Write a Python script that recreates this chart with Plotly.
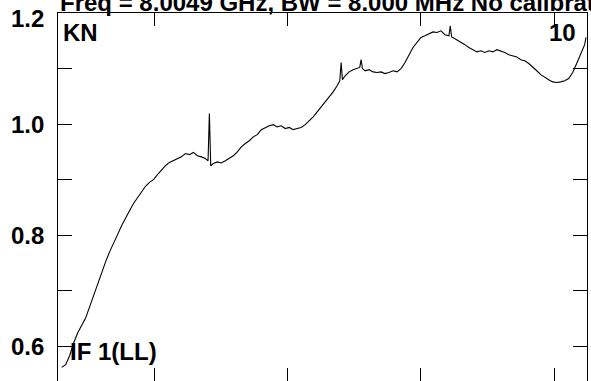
import plotly.graph_objects as go

# Spectrum readings (channel vs. normalised amplitude)
channel = [
    30, 33, 36, 39, 42, 45, 48, 51, 54, 57, 60, 63, 66, 69, 72, 75, 78, 81, 84, 87,
    90, 93, 96, 99, 102, 105, 108, 111, 114, 117, 120, 123, 126, 129, 132, 135, 138,
    140, 141, 142, 144, 147, 150, 153, 156, 159, 162, 165, 168, 171, 174, 177, 180,
    183, 186, 189, 192, 195, 198, 201, 204, 207, 210, 213, 216, 219, 222, 225, 228,
    231, 234, 237, 239, 240, 241, 243, 246, 249, 252, 254, 255, 256, 258, 261, 264,
    267, 270, 273, 276, 279, 282, 285, 288, 291, 294, 297, 300, 303, 306, 309, 312,
    315, 318, 321, 322, 323, 324, 327, 330, 333, 336, 339, 342, 345, 348, 351, 354,
    357, 360, 363, 366, 369, 372, 375, 378, 381, 384, 387, 390, 393, 396, 399, 402,
    405, 408, 411, 414, 417, 420, 423, 424,
]
amplitude = [
    0.562, 0.567, 0.583, 0.606, 0.624, 0.639, 0.651, 0.671, 0.691, 0.711, 0.734, 0.752,
    0.770, 0.787, 0.801, 0.817, 0.832, 0.844, 0.857, 0.868, 0.877, 0.888, 0.895, 0.900,
    0.909, 0.918, 0.925, 0.931, 0.934, 0.938, 0.941, 0.947, 0.945, 0.949, 0.943, 0.941,
    0.938, 0.934, 1.019, 0.925, 0.929, 0.932, 0.930, 0.934, 0.938, 0.943, 0.950, 0.959,
    0.965, 0.970, 0.977, 0.981, 0.990, 0.994, 0.997, 0.999, 0.995, 0.997, 0.992, 0.994,
    0.990, 0.992, 0.994, 0.999, 1.006, 1.013, 1.022, 1.031, 1.039, 1.049, 1.058, 1.069,
    1.078, 1.111, 1.080, 1.087, 1.094, 1.098, 1.100, 1.102, 1.116, 1.100, 1.096, 1.098,
    1.094, 1.093, 1.094, 1.091, 1.093, 1.096, 1.094, 1.100, 1.111, 1.125, 1.138, 1.147,
    1.156, 1.159, 1.163, 1.166, 1.165, 1.168, 1.161, 1.159, 1.177, 1.157, 1.156, 1.152,
    1.148, 1.143, 1.138, 1.134, 1.130, 1.132, 1.129, 1.132, 1.130, 1.134, 1.132, 1.129,
    1.125, 1.123, 1.121, 1.116, 1.114, 1.109, 1.103, 1.096, 1.089, 1.084, 1.080, 1.076,
    1.075, 1.076, 1.078, 1.082, 1.093, 1.109, 1.125, 1.143, 1.156,
]

x_ticks = [100, 200, 300, 400]
y_ticks = [0.6, 0.7, 0.8, 0.9, 1.0, 1.1, 1.2]
y_labels = [0.6, 0.8, 1.0, 1.2]

title_text = "Freq = 8.0049 GHz, BW = 8.000 MHz No calibration"
source = "KN"
ifnum = "IF 1(LL)"
panel = "10"

FONT = dict(family="Liberation Sans, Arial, sans-serif", size=24, color="black", weight="bold")

fig = go.Figure()
fig.add_trace(
    go.Scatter(
        x=channel,
        y=amplitude,
        mode="lines",
        line=dict(color="black", width=1.1),
        hoverinfo="skip",
    )
)

annotations = []
for v in y_labels:
    annotations.append(
        dict(
            x=0, xref="paper", y=v, yref="y",
            text=f"{v:.1f}", showarrow=False, font=FONT,
            xanchor="right", yanchor="middle", xshift=-12,
            yshift=-5 if v == 1.2 else 0,
        )
    )
annotations += [
    dict(x=0, xref="paper", y=1, yref="paper", text=title_text, showarrow=False,
         font=FONT, xanchor="left", yanchor="bottom", xshift=0, yshift=-5),
    dict(x=0, xref="paper", y=1, yref="paper", text=source, showarrow=False,
         font=FONT, xanchor="left", yanchor="top", xshift=3, yshift=-4),
    dict(x=1, xref="paper", y=1, yref="paper", text=panel, showarrow=False,
         font=FONT, xanchor="right", yanchor="top", xshift=-9, yshift=-4),
    dict(x=0, xref="paper", y=0, yref="paper", text=ifnum, showarrow=False,
         font=FONT, xanchor="left", yanchor="bottom", xshift=10, yshift=14),
]

fig.update_layout(
    width=591,
    height=381,
    margin=dict(l=58, r=4, t=13, b=0),
    paper_bgcolor="white",
    plot_bgcolor="white",
    showlegend=False,
    annotations=annotations,
    xaxis=dict(
        range=[27.25, 424.75],
        tickvals=x_ticks,
        ticks="inside",
        ticklen=13,
        tickcolor="black",
        showticklabels=False,
        showline=True,
        linecolor="black",
        linewidth=1,
        mirror="ticks",
        showgrid=False,
        zeroline=False,
    ),
    yaxis=dict(
        range=[0.5375, 1.2],
        tickvals=y_ticks,
        ticks="inside",
        ticklen=14,
        tickcolor="black",
        showticklabels=False,
        showline=True,
        linecolor="black",
        linewidth=1,
        mirror="ticks",
        showgrid=False,
        zeroline=False,
    ),
)

# page margin off so the figure sits at the window's corner
fig.write_html(
    "out.html",
    config={"displayModeBar": False},
    post_script="document.body.style.margin='0';",
)
